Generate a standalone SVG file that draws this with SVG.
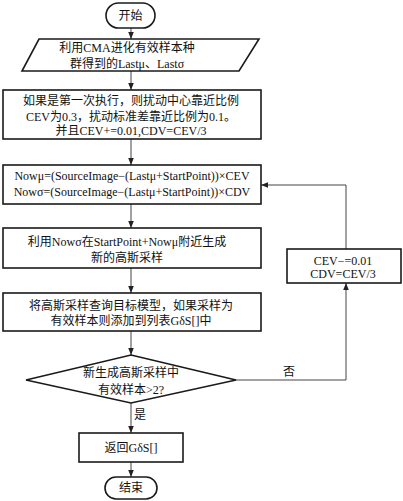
<svg xmlns="http://www.w3.org/2000/svg" width="403" height="501" viewBox="0 0 403 501">
<style>
.box{fill:#fff;stroke:#1a1a1a;stroke-width:1.6}
.t{font-family:"Liberation Serif","Noto Sans CJK SC",serif;font-size:12px;fill:#111;text-anchor:middle}
.c{fill:none;stroke:#444;stroke-width:1}
</style>
<defs>
<marker id="a" markerWidth="8" markerHeight="8" refX="7" refY="4" orient="auto" markerUnits="userSpaceOnUse">
<path d="M0,1.2 L7,4 L0,6.8 Z" fill="#222"/>
</marker>
</defs>
<g id="connectors">
<line class="c" x1="131" y1="28" x2="131" y2="39" marker-end="url(#a)"/>
<line class="c" x1="131" y1="71" x2="131" y2="90" marker-end="url(#a)"/>
<line class="c" x1="131" y1="139" x2="131" y2="165" marker-end="url(#a)"/>
<line class="c" x1="131" y1="204" x2="131" y2="228" marker-end="url(#a)"/>
<line class="c" x1="131" y1="268" x2="131" y2="293" marker-end="url(#a)"/>
<line class="c" x1="131" y1="331" x2="131" y2="355" marker-end="url(#a)"/>
<line class="c" x1="131" y1="403" x2="131" y2="433" marker-end="url(#a)"/>
<line class="c" x1="131" y1="462" x2="131" y2="477" marker-end="url(#a)"/>
<polyline class="c" points="236,380 346,380 346,283" marker-end="url(#a)"/>
<polyline class="c" points="346,249 346,185 261,185" marker-end="url(#a)"/>
<text class="t" x="140" y="419">是</text>
<text class="t" x="289" y="376">否</text>
</g>
<g id="start">
<rect class="box" x="106" y="3" width="49" height="25" rx="12.5"/>
<text class="t" x="130.5" y="20">开始</text>
</g>
<g id="init">
<polygon class="box" points="39,39 259,39 239,71 22,71"/>
<text class="t" x="127" y="52">利用CMA进化有效样本种</text>
<text class="t" x="127" y="68">群得到的Lastμ、Lastσ</text>
</g>
<g id="param">
<rect class="box" x="3" y="90" width="258" height="49"/>
<text class="t" x="131" y="105">如果是第一次执行，则扰动中心靠近比例</text>
<text class="t" x="131" y="121">CEV为0.3，扰动标准差靠近比例为0.1。</text>
<text class="t" x="131" y="135">并且CEV+=0.01,CDV=CEV/3</text>
</g>
<g id="now">
<rect class="box" x="3" y="165" width="258" height="39"/>
<text class="t" x="132" y="180">Nowμ=(SourceImage−(Lastμ+StartPoint))×CEV</text>
<text class="t" x="132" y="196">Nowσ=(SourceImage−(Lastμ+StartPoint))×CDV</text>
</g>
<g id="gen">
<rect class="box" x="3" y="228" width="258" height="40"/>
<text class="t" x="127" y="246">利用Nowσ在StartPoint+Nowμ附近生成</text>
<text class="t" x="127" y="262">新的高斯采样</text>
</g>
<g id="query">
<rect class="box" x="3" y="293" width="258" height="38"/>
<text class="t" x="131" y="310">将高斯采样查询目标模型，如果采样为</text>
<text class="t" x="131" y="325">有效样本则添加到列表GδS[]中</text>
</g>
<g id="decide">
<polygon class="box" points="131,355 236,380 131,403 26,380"/>
<text class="t" x="131" y="377">新生成高斯采样中</text>
<text class="t" x="131" y="394">有效样本&gt;2?</text>
</g>
<g id="update">
<rect class="box" x="287" y="249" width="114" height="34"/>
<text class="t" x="343" y="265">CEV−=0.01</text>
<text class="t" x="343" y="278">CDV=CEV/3</text>
</g>
<g id="ret">
<rect class="box" x="79" y="433" width="104" height="29"/>
<text class="t" x="131" y="452">返回GδS[]</text>
</g>
<g id="end">
<rect class="box" x="105" y="477" width="52" height="22" rx="11"/>
<text class="t" x="131" y="492">结束</text>
</g>
</svg>
